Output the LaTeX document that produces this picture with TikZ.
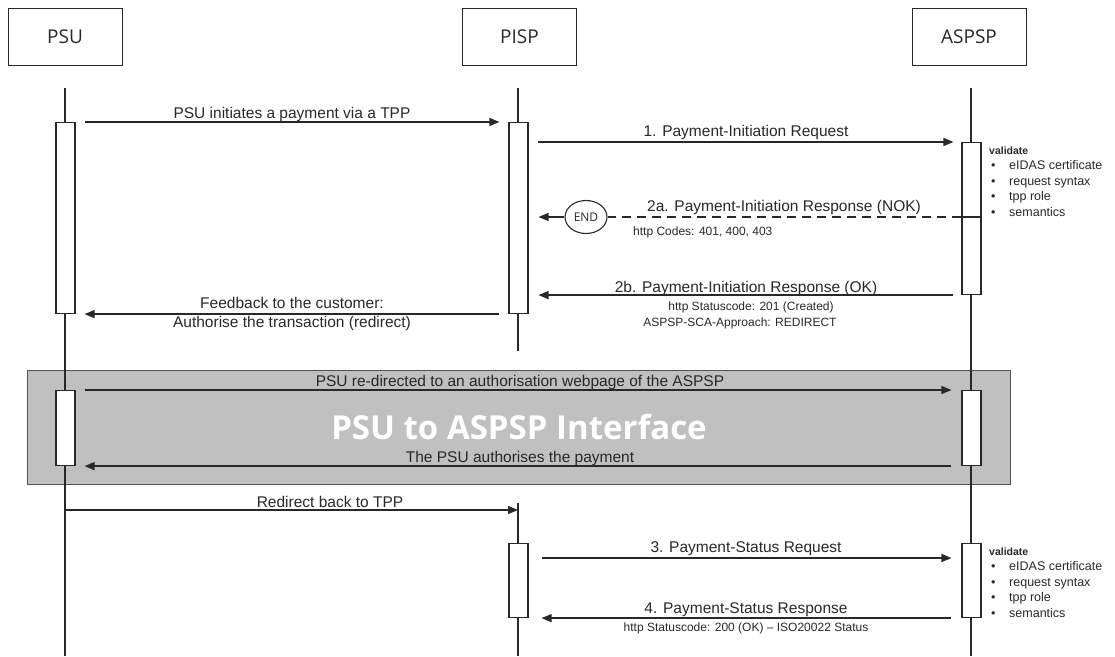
\documentclass[tikz,border=0pt]{standalone}
\usepackage{fontspec}
\setmainfont{Liberation Sans}
\newfontfamily\hdfont{Open Sans}
\usetikzlibrary{arrows.meta,shapes.geometric}
\definecolor{band}{RGB}{192,192,192}
\definecolor{ink}{RGB}{40,40,40}
\begin{document}
\begin{tikzpicture}[x=1pt,y=-1pt,
  actor/.style={draw=ink, line width=1pt, minimum width=114pt, minimum height=57pt, font=\hdfont\fontsize{19}{22}\selectfont, inner sep=0, text=ink},
  actbox/.style={draw=ink, fill=white, line width=1.1pt, minimum width=19pt, inner sep=0, anchor=north},
  life/.style={line width=1.6pt, draw=ink},
  msg/.style={line width=1.3pt, draw=ink, -{Triangle[length=10pt,width=8pt]}},
  lbl/.style={font=\fontsize{15.5}{17}\selectfont, text=ink, inner sep=0, anchor=base},
  sml/.style={font=\fontsize{12}{14}\selectfont, text=ink, inner sep=0, anchor=base},
  val/.style={font=\fontsize{12.5}{14}\selectfont, text=ink, inner sep=0, anchor=base west},
]
\useasboundingbox (0,0) rectangle (1115,656);
% band
\node[draw=ink!80, fill=band, line width=1pt, minimum width=983pt, minimum height=114pt, inner sep=0, anchor=north west] (band) at (27,370) {};
\node[font=\hdfont\bfseries\fontsize{33}{38}\selectfont, text=white] (bandtxt) at (519,427) {PSU to ASPSP Interface};
% actors
\node[actor] (psu) at (65,36.5) {PSU};
\node[actor] (pisp) at (519.5,36.5) {PISP};
\node[actor] (aspsp) at (969,36.5) {ASPSP};
% lifelines
\coordinate (psuTop) at (65,88);
\coordinate (psuBot) at (65,656);
\coordinate (pispTop) at (518,88);
\coordinate (pispMid) at (518,351);
\coordinate (pispTop2) at (518,503);
\coordinate (pispBot) at (518,656);
\coordinate (aspTop) at (971,88);
\coordinate (aspBot) at (971,656);
\draw[life] (psuTop) -- (psuBot);
\draw[life] (pispTop) -- (pispMid);
\draw[life] (pispTop2) -- (pispBot);
\draw[life] (aspTop) -- (aspBot);
% activations
\node[actbox, minimum height=191pt] (psuA) at (65.5,122) {};
\node[actbox, minimum height=191pt] (pispA) at (518.5,122) {};
\node[actbox, minimum height=152pt] (aspA) at (971.5,142) {};
\node[actbox, minimum height=75pt] (psuB) at (65.5,390) {};
\node[actbox, minimum height=75pt] (aspB) at (971.5,390) {};
\node[actbox, minimum height=74pt] (pispC) at (518.5,543) {};
\node[actbox, minimum height=74pt] (aspC) at (971.5,543) {};
% messages
\draw[msg] ([xshift=9pt]psuA.north east) -- ([xshift=-9pt]pispA.north west);
\node[lbl] (m0) at (292,118) {PSU initiates a payment via a TPP};

\draw[msg] ([xshift=9pt]pispA.east |- aspA.north) -- ([xshift=-8pt]aspA.north west);
\node[lbl] (m1) at (746,136) {1. Payment-Initiation Request};

\node[draw=ink, line width=1.1pt, ellipse, minimum width=42pt, minimum height=33pt, inner sep=0, font=\hdfont\fontsize{12}{14}\selectfont, text=ink] (endn) at (586,217) {END};
\coordinate (nokStart) at (aspA.west |- endn);
\coordinate (nokEnd) at ([xshift=10pt]pispA.east |- endn);
\draw[ink, line width=1.1pt] (aspA.west |- endn) -- (aspA.east |- endn);
\draw[ink, line width=1.3pt, dash pattern=on 9pt off 6pt] (nokStart) -- (endn.east);
\draw[msg] (endn.west) -- (nokEnd);
\node[lbl] (m2a) at (784,211) {2a. Payment-Initiation Response (NOK)};
\node[sml, anchor=base west] (m2ac) at (633,235) {http Codes: 401, 400, 403};

\draw[msg] ([xshift=-8pt]aspA.south west) -- ([xshift=10pt]pispA.east |- aspA.south);
\node[lbl] (m2b) at (746,292) {2b. Payment-Initiation Response (OK)};
\node[sml] (m2b1) at (751,310) {http Statuscode: 201 (Created)};
\node[sml] (m2b2) at (740,326) {ASPSP-SCA-Approach: REDIRECT};

\draw[msg] ([xshift=-9pt]pispA.south west) -- ([xshift=9pt]psuA.south east);
\node[lbl] (f1) at (292,308) {Feedback to the customer:};
\node[lbl] (f2) at (292,327) {Authorise the transaction (redirect)};

\draw[msg] ([xshift=9pt]psuB.north east) -- ([xshift=-10pt]aspB.north west);
\node[lbl] (b1) at (520,386) {PSU re-directed to an authorisation webpage of the ASPSP};
\draw[msg] ([xshift=-10pt]aspB.south west) -- ([xshift=9pt]psuB.south east);
\node[lbl] (b2) at (520,462) {The PSU authorises the payment};

\coordinate (rdA) at (65,510);
\coordinate (rdB) at (518,510);
\draw[msg] (rdA) -- (rdB);
\node[lbl] (rd) at (330,507) {Redirect back to TPP};

\draw[msg] ([xshift=13pt]pispC.east |- 0,558) -- ([xshift=-10pt]aspC.west |- 0,558);
\node[lbl] (m3) at (746,552) {3. Payment-Status Request};
\draw[msg] ([xshift=-10pt]aspC.south west) -- ([xshift=13pt]pispC.south east);
\node[lbl] (m4) at (746,613) {4. Payment-Status Response};
\node[sml] (m4c) at (746,631) {http Statuscode: 200 (OK) -- ISO20022 Status};

% validate lists
\foreach \y/\nm in {154/v1, 555/v2}{
  \node[val, font=\bfseries\fontsize{10.5}{12}\selectfont] (\nm h) at (989,\y) {validate};
  \foreach \k/\t in {1/eIDAS certificate, 2/request syntax, 3/tpp role, 4/semantics}{
    \node[val] (\nm b\k) at (991,\y+15.5*\k) {\textbullet};
    \node[val] (\nm t\k) at (1009,\y+15.5*\k) {\t};
  }
}
\end{tikzpicture}
\end{document}
